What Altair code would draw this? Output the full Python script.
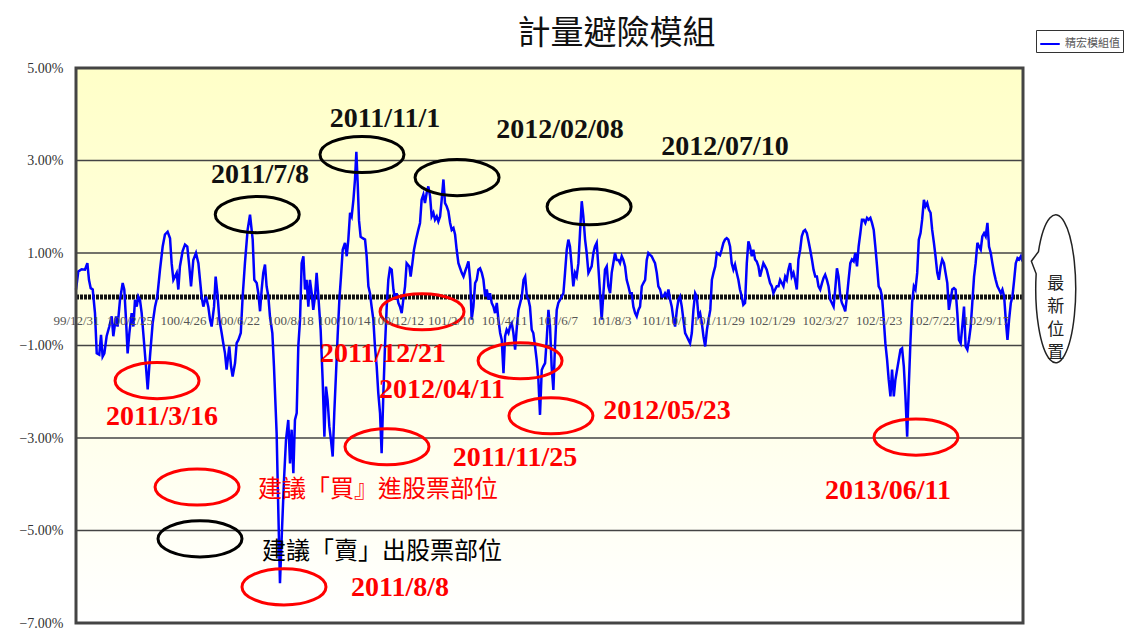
import altair as alt
import pandas as pd

TITLE = "計量避險模組"
SERIES_NAME = "精宏模組值"

# category axis: one label every 40 trading days
X_TICK_DAYS = [0, 40, 80, 120, 160, 200, 240, 280, 320, 360, 400, 440, 480, 520, 560, 600, 640, 680]
X_TICK_LABELS = ["99/12/31", "100/2/25", "100/4/26", "100/6/22", "100/8/18", "100/10/14",
                 "100/12/12", "101/2/10", "101/4/11", "101/6/7", "101/8/3", "101/10/1",
                 "101/11/29", "102/1/29", "102/3/27", "102/5/23", "102/7/22", "102/9/17"]
X_DOMAIN = [0, 708]
Y_TICKS = [-7, -5, -3, -1, 1, 3, 5]
Y_DOMAIN = [-7, 5]
THRESHOLD = 0.05

# (trading-day index, value in %)
LINE_POINTS = [
    (0, 0.21), (1.7, 0.60), (4.2, 0.65), (6.7, 0.64), (8.5, 0.78), (9.7, 0.42), (11.0, 0.24), (12.5, 0.21),
    (14.2, -0.30), (15.5, -1.17), (17.4, -1.20), (18.7, -0.77), (19.9, -1.24), (21.2, -1.17), (22.9, -0.80),
    (24.9, -0.59), (26.7, -0.37), (27.9, -0.80), (29.9, -0.37), (31.1, -0.59), (32.9, -0.01), (34.9, 0.35),
    (36.1, 0.21), (37.4, -0.44), (38.6, -1.17), (39.9, -0.73), (41.6, -0.30), (42.9, -0.59), (44.1, -0.01),
    (45.4, -0.16), (46.6, 0.06), (47.8, -0.01), (49.1, -0.30), (50.3, -0.73), (52.3, -1.45), (53.6, -1.95),
    (55.3, -1.24), (57.3, -0.52), (59.1, -0.16), (60.8, 0.06), (62.8, 0.64), (64.8, 1.14), (66.5, 1.40),
    (68.5, 1.46), (70.3, 1.32), (71.5, 0.78), (72.8, 0.42), (74.0, 0.49), (75.3, 0.57), (76.5, 0.21),
    (77.7, 0.71), (79.7, 1.04), (81.5, 1.18), (83.2, 1.14), (84.7, 0.71), (86.0, 0.28), (87.7, 0.85),
    (89.7, 1.00), (91.5, 0.78), (92.7, 0.42), (93.9, 0.06), (95.2, -0.16), (97.2, 0.06), (98.9, -0.16),
    (100.2, -0.44), (101.4, -0.59), (103.2, -0.16), (104.4, 0.49), (105.7, 0.13), (107.2, -0.44),
    (108.9, -0.73), (110.1, -0.95), (111.4, -1.17), (112.6, -1.52), (114.6, -1.02), (115.9, -1.45),
    (117.1, -1.67), (118.9, -1.38), (120.1, -0.95), (121.4, -0.88), (123.2, -0.73), (124.6, 0.06),
    (126.3, 0.78), (128.3, 1.50), (130.1, 1.83), (132.1, 1.29), (133.3, 0.42), (135.1, 0.35), (136.3, 0.13),
    (137.6, -0.26), (138.8, 0.21), (140.0, 0.57), (141.3, 0.75), (142.5, 0.28), (143.8, 0.06), (145.0, -0.37),
    (146.8, -0.73), (148.0, -1.45), (150.0, -2.90), (151.3, -4.63), (152.5, -6.14), (154.0, -4.99),
    (155.5, -3.91), (157.0, -3.04), (158.7, -2.61), (160.0, -3.55), (161.2, -2.82), (162.5, -3.76),
    (163.7, -2.61), (165.0, -2.46), (166.2, -1.02), (167.5, -0.44), (168.7, 0.78), (170.0, 0.93),
    (171.2, 0.21), (172.4, 0.42), (173.7, -0.16), (174.9, 0.42), (176.2, 0.13), (177.4, -0.23), (178.7, 0.06),
    (179.9, 0.57), (181.2, 0.06), (182.9, -0.66), (184.4, -1.74), (185.7, -2.97), (186.9, -1.89),
    (188.1, -2.18), (189.4, -2.75), (190.6, -3.04), (191.9, -3.40), (193.1, -2.46), (194.4, -1.60),
    (195.6, -0.80), (196.9, -0.01), (198.1, 0.49), (199.4, 1.07), (201.1, 1.22), (202.4, 0.93), (203.6, 1.29),
    (204.9, 1.87), (206.1, 1.79), (207.4, 2.15), (208.6, 2.60), (209.6, 3.19), (210.6, 2.50), (211.6, 1.70),
    (212.8, 1.35), (214.3, 1.32), (216.1, 1.29), (217.3, 0.93), (218.6, 0.28), (219.8, 0.13), (221.0, -0.16),
    (222.3, -0.44), (223.5, -1.02), (224.8, -1.45), (226.0, -2.03), (227.3, -2.46), (228.5, -3.33),
    (229.8, -2.03), (231.0, -1.02), (232.3, -0.16), (233.5, 0.42), (234.7, 0.67), (236.0, 0.64), (237.3, 0.21),
    (238.5, -0.01), (239.7, 0.13), (241.0, -0.08), (242.2, -0.16), (243.5, -0.30), (244.7, -0.01),
    (246.0, 0.28), (247.2, 0.78), (249.2, 0.71), (250.2, 0.49), (251.5, 0.78), (252.7, 1.07), (254.2, 1.29),
    (255.9, 1.50), (257.2, 1.65), (258.4, 2.15), (259.7, 2.26), (260.9, 2.08), (262.2, 2.30), (263.4, 2.44),
    (264.7, 2.23), (265.9, 1.79), (267.2, 1.87), (268.4, 1.72), (269.7, 1.79), (270.9, 1.68), (272.2, 1.79),
    (273.4, 2.15), (274.7, 2.59), (275.9, 2.08), (277.1, 2.01), (278.4, 1.90), (279.7, 1.65), (280.9, 1.50),
    (282.2, 1.54), (283.4, 1.40), (284.6, 1.07), (285.9, 0.78), (287.2, 0.67), (288.4, 0.57), (289.7, 0.49),
    (290.9, 0.60), (292.2, 0.71), (293.4, 0.82), (294.7, 0.42), (295.8, -0.44), (297.1, -0.16), (298.4, 0.35),
    (299.6, 0.42), (300.8, 0.64), (302.1, 0.67), (303.4, 0.57), (304.6, 0.42), (305.9, 0.06), (307.1, 0.21),
    (308.4, -0.01), (309.5, 0.13), (310.8, -0.08), (312.1, -0.16), (313.3, -0.30), (314.6, -0.08),
    (315.8, -0.44), (317.1, -0.73), (318.3, -0.88), (319.6, -1.60), (320.8, -0.80), (322.0, -0.66),
    (323.3, -0.73), (324.5, -0.59), (325.8, -0.52), (327.0, -0.73), (328.3, -1.09), (329.6, -0.59),
    (330.8, -0.23), (332.1, -0.08), (333.3, 0.06), (334.6, 0.42), (335.8, 0.49), (337.1, 0.06), (338.3, -0.01),
    (339.4, -0.16), (340.7, -0.66), (341.9, -0.73), (343.2, -1.02), (344.4, -1.31), (345.7, -1.74),
    (346.9, -2.50), (348.2, -1.53), (349.4, -1.45), (350.7, -1.38), (351.9, -0.88), (353.2, -0.23),
    (354.4, -0.59), (355.6, -1.45), (356.9, -1.96), (358.1, -1.02), (359.4, -0.23), (360.6, -0.08),
    (361.9, -0.01), (363.1, 0.06), (364.4, 0.13), (365.6, 0.57), (366.9, 1.07), (368.1, 1.29), (369.3, 1.14),
    (370.6, 0.71), (371.8, 0.28), (373.1, 0.57), (374.3, 0.49), (375.6, 0.78), (376.8, 1.43), (378.1, 2.12),
    (379.3, 1.79), (380.6, 1.29), (381.8, 1.00), (383.1, 0.57), (384.3, 0.64), (385.5, 0.71), (386.8, 1.00),
    (388.0, 1.14), (389.3, 1.22), (390.5, 0.71), (391.8, 0.13), (393.0, -0.44), (394.3, 0.13), (395.5, 0.64),
    (396.8, 0.71), (398.0, 0.28), (399.3, 0.13), (400.5, 0.57), (401.7, 0.78), (403.0, 1.00), (404.2, 0.85),
    (405.5, 0.85), (406.7, 0.78), (408.0, 0.93), (409.2, 0.85), (410.5, 0.71), (411.7, 0.42), (413.0, 0.28),
    (414.2, 0.13), (415.5, 0.13), (416.7, -0.16), (418.0, -0.30), (419.2, -0.37), (420.5, -0.23),
    (421.7, -0.16), (423.0, 0.28), (424.2, 0.35), (425.5, 0.42), (426.7, 0.85), (427.9, 1.00), (429.2, 0.96),
    (430.4, 0.93), (431.7, 0.85), (432.9, 0.78), (434.2, 0.57), (435.4, 0.28), (436.7, 0.21), (437.9, 0.06),
    (439.2, 0.06), (440.4, 0.13), (441.7, 0.06), (442.9, 0.21), (444.2, -0.01), (445.4, -0.16), (446.7, -0.44),
    (447.9, -0.59), (449.2, -0.23), (450.4, -0.01), (451.6, 0.06), (452.9, -0.16), (454.1, -0.44),
    (455.4, -0.73), (456.6, -0.80), (457.9, -0.88), (459.1, -0.95), (460.4, -0.73), (461.6, -0.23),
    (462.9, 0.13), (464.1, 0.06), (465.4, -0.37), (466.6, -0.30), (467.9, -0.52), (469.1, -0.80),
    (470.4, -1.02), (471.7, -0.66), (472.9, -0.44), (474.2, -0.23), (475.4, 0.42), (476.6, 0.57), (477.9, 0.71),
    (479.1, 1.00), (481.5, 0.95), (482.7, 1.07), (484.0, 1.22), (485.2, 1.29), (486.5, 1.32), (487.7, 1.29),
    (489.0, 1.14), (490.2, 0.78), (491.5, 0.64), (492.7, 0.75), (494.0, 0.57), (495.2, 0.42), (496.4, 0.21),
    (497.7, 0.06), (498.9, -0.12), (500.2, -0.08), (501.5, 0.78), (502.7, 1.25), (503.9, 1.14), (505.2, 0.93),
    (506.4, 1.07), (507.7, 0.86), (508.9, 0.82), (510.2, 0.71), (511.4, 0.49), (512.7, 0.64), (513.9, 0.78),
    (515.2, 0.71), (516.4, 0.64), (517.7, 0.49), (518.9, 0.35), (520.2, 0.28), (521.4, 0.13), (522.7, 0.21),
    (523.9, 0.28), (525.2, 0.28), (526.4, 0.42), (527.7, 0.35), (528.9, 0.28), (530.2, 0.49), (531.4, 0.42),
    (532.6, 0.64), (533.9, 0.78), (535.1, 0.49), (536.4, 0.57), (537.6, 0.42), (538.9, 0.21), (540.1, 0.86),
    (541.4, 1.07), (542.6, 1.36), (543.9, 1.47), (545.1, 1.50), (546.4, 1.43), (547.7, 1.25), (548.9, 1.07),
    (550.2, 0.86), (551.4, 0.64), (552.7, 0.49), (553.9, 0.49), (555.1, 0.28), (556.4, 0.21), (557.7, 0.35),
    (558.9, 0.46), (560.1, 0.53), (561.4, 0.42), (562.6, 0.28), (563.9, -0.01), (565.1, -0.08), (566.4, -0.16),
    (567.6, 0.21), (568.9, 0.67), (570.1, 0.49), (571.4, 0.06), (572.6, -0.08), (573.9, -0.16), (575.1, -0.26),
    (576.4, 0.06), (577.6, 0.42), (578.9, 0.78), (580.1, 0.86), (581.4, 0.82), (582.6, 1.00), (583.9, 0.71),
    (585.1, 1.14), (586.4, 1.43), (587.6, 1.72), (588.9, 1.72), (590.1, 1.65), (591.4, 1.76), (592.6, 1.72),
    (593.9, 1.76), (595.1, 1.65), (596.4, 1.50), (597.6, 1.14), (598.9, 0.71), (600.1, 0.28), (601.4, 0.21),
    (602.6, 0.06), (603.9, -0.44), (605.1, -0.95), (606.4, -1.31), (607.6, -1.74), (608.9, -2.10),
    (610.1, -1.52), (611.4, -2.10), (612.6, -1.74), (613.9, -1.52), (615.1, -1.31), (616.4, -1.09),
    (617.6, -1.06), (618.9, -1.45), (620.1, -2.10), (621.4, -2.97), (622.6, -1.89), (623.9, -0.88),
    (625.1, -0.08), (626.4, 0.28), (627.6, 0.21), (628.9, 0.57), (630.1, 1.29), (631.4, 1.43), (632.6, 1.72),
    (633.9, 2.15), (635.1, 2.01), (636.4, 2.08), (637.6, 1.94), (638.9, 1.87), (640.1, 1.50), (641.4, 1.22),
    (642.6, 0.93), (643.9, 0.57), (645.1, 0.42), (646.4, 0.71), (647.6, 0.86), (648.9, 0.78), (650.1, 0.57),
    (651.4, 0.35), (652.6, -0.23), (653.9, -0.01), (655.1, 0.21), (656.4, 0.24), (657.6, 0.21), (658.9, -0.30),
    (660.1, -0.88), (661.4, -0.95), (662.6, -0.59), (663.9, -0.16), (665.1, -1.02), (666.4, -1.09),
    (667.6, -0.88), (668.9, -0.59), (670.1, -0.08), (671.4, 0.49), (672.6, 0.78), (673.9, 1.22), (675.1, 1.14),
    (676.4, 1.07), (677.6, 1.36), (678.9, 1.43), (680.1, 1.36), (681.4, 1.65), (682.6, 1.14), (683.9, 1.00),
    (685.1, 0.78), (686.4, 0.57), (687.6, 0.42), (688.9, 0.28), (690.1, 0.21), (691.4, 0.13), (692.6, 0.21),
    (693.9, 0.06), (695.1, -0.44), (696.4, -0.88), (697.6, -0.44), (698.9, -0.08), (700.1, 0.06),
    (701.4, 0.42), (702.6, 0.78), (703.9, 0.89), (705.1, 0.86), (706.4, 0.93), (707.6, 0.82),
]

# annotations (data coordinates: trading-day index, %)
SELL_DATES = ["2011/7/8", "2011/11/1", "2012/02/08", "2012/07/10"]
SELL_TEXT_DAY = [137.6, 231.0, 361.9, 485.2]
SELL_TEXT_VAL = [2.69, 3.90, 3.65, 3.30]
SELL_MARK_DAY = [135.5, 213.8, 284.9, 383.6]
SELL_MARK_VAL = [1.83, 3.13, 2.63, 2.00]

BUY_DATES = ["2011/3/16", "2011/8/8", "2011/11/25", "2011/12/21", "2012/04/11", "2012/05/23", "2013/06/11"]
BUY_TEXT_DAY = [64.3, 242.2, 328.2, 229.5, 273.6, 441.9, 607.1]
BUY_TEXT_VAL = [-2.54, -6.24, -3.43, -1.18, -1.96, -2.41, -4.15]
BUY_MARK_DAY = [60.6, 155.5, 232.5, 258.7, 332.0, 355.1, 628.0]
BUY_MARK_VAL = [-1.76, -6.22, -3.19, -0.27, -1.33, -2.52, -2.98]

KEY_TEXTS = ["建議「買』進股票部位", "建議「賣」出股票部位"]
KEY_COLORS = ["#FF0000", "#000000"]
KEY_TEXT_DAY = [136.1, 139.1]
KEY_TEXT_VAL = [-4.12, -5.47]
KEY_MARK_DAY = [90.5, 92.7]
KEY_MARK_VAL = [-4.06, -5.18]

LATEST_TEXT = "最\n新\n位\n置"
LATEST_DAY = [732.5]
LATEST_VAL = [0.23]

RED = "#FF0000"
BLUE = "#0000FF"
SERIF = "Liberation Serif"
CJK = "Noto Sans CJK TC"

ELLIPSE = "M -1 0 A 1 0.43 0 1 1 1 0 A 1 0.43 0 1 1 -1 0 Z"
BUBBLE = "M -0.234 -0.5 A 0.27 1 0 1 1 -0.265 -0.2 L -0.33 -0.37 Z"

line_df = pd.DataFrame(LINE_POINTS, columns=["day", "value"])
line_df["series"] = SERIES_NAME

x_scale = alt.Scale(domain=X_DOMAIN, nice=False, zero=False)
y_scale = alt.Scale(domain=Y_DOMAIN, nice=False, zero=False)

label_array = "[" + ",".join("'" + s + "'" for s in X_TICK_LABELS) + "]"

x_axis = alt.Axis(
    values=X_TICK_DAYS, labelExpr=label_array + "[round(datum.value/40)]",
    title=None, domain=False, ticks=False, grid=False, offset=-326, zindex=1,
    labelPadding=17, labelFont=SERIF, labelFontSize=13, labelColor="#555555",
    labelFlush=False, labelOverlap=False, labelBound=False,
)
y_axis = alt.Axis(
    values=Y_TICKS, labelExpr="format(datum.value, '.2f') + '%'",
    title=None, domain=False, ticks=False, grid=False, zindex=1,
    labelPadding=13, labelFont=SERIF, labelFontSize=14, labelColor="#333333",
)

one_row = pd.DataFrame({"a": [0]})

bg = alt.Chart(one_row).mark_rect(
    fill=alt.LinearGradient(
        gradient="linear",
        stops=[alt.GradientStop(color="#FFFFC8", offset=0), alt.GradientStop(color="#FFFFFF", offset=1)],
        x1=0, x2=0, y1=0, y2=1,
    )
).encode(
    x=alt.X(datum=X_DOMAIN[0], scale=x_scale, axis=x_axis),
    x2=alt.X2(datum=X_DOMAIN[1]),
    y=alt.Y(datum=Y_DOMAIN[1], scale=y_scale, axis=y_axis),
    y2=alt.Y2(datum=Y_DOMAIN[0]),
)

grid = alt.Chart(pd.DataFrame({"value": Y_TICKS[1:-1]})).mark_rule(
    color="#444444", strokeWidth=1.5
).encode(y=alt.Y("value:Q", scale=y_scale))

zero_rule = alt.Chart(one_row).mark_rule(
    color="#111111", strokeWidth=5, strokeDash=[3, 1]
).encode(y=alt.Y(datum=THRESHOLD, scale=y_scale))

line = alt.Chart(line_df).mark_line(strokeWidth=2.5).encode(
    x=alt.X("day:Q", scale=x_scale, axis=x_axis),
    y=alt.Y("value:Q", scale=y_scale, axis=y_axis),
    color=alt.Color(
        "series:N",
        scale=alt.Scale(domain=[SERIES_NAME], range=[BLUE]),
        legend=alt.Legend(
            title=None, orient="none", legendX=960, legendY=-38,
            strokeColor="#333333", padding=3, fillColor="white",
            symbolType="stroke", symbolSize=380, symbolStrokeWidth=2,
            labelFont=CJK, labelFontSize=11, labelColor="#555555",
        ),
    ),
)

frame = alt.Chart(one_row).mark_rect(
    filled=False, stroke="#444444", strokeWidth=3, fillOpacity=0
).encode(
    x=alt.X(datum=X_DOMAIN[0], scale=x_scale),
    x2=alt.X2(datum=X_DOMAIN[1]),
    y=alt.Y(datum=Y_DOMAIN[1], scale=y_scale),
    y2=alt.Y2(datum=Y_DOMAIN[0]),
)


def marks(days, vals, color):
    df = pd.DataFrame({"day": days, "value": vals})
    return alt.Chart(df).mark_point(
        shape=ELLIPSE, size=7056, filled=False, stroke=color, strokeWidth=3, opacity=1
    ).encode(x=alt.X("day:Q", scale=x_scale), y=alt.Y("value:Q", scale=y_scale))


def texts(labels, days, vals, color, font, size, weight, align="center"):
    df = pd.DataFrame({"label": labels, "day": days, "value": vals})
    return alt.Chart(df).mark_text(
        font=font, fontSize=size, fontWeight=weight, color=color, align=align, baseline="middle"
    ).encode(x=alt.X("day:Q", scale=x_scale), y=alt.Y("value:Q", scale=y_scale), text="label:N")


sell_marks = marks(SELL_MARK_DAY, SELL_MARK_VAL, "#000000")
buy_marks = marks(BUY_MARK_DAY, BUY_MARK_VAL, RED)
key_mark_red = marks(KEY_MARK_DAY[:1], KEY_MARK_VAL[:1], KEY_COLORS[0])
key_mark_black = marks(KEY_MARK_DAY[1:], KEY_MARK_VAL[1:], KEY_COLORS[1])

sell_text = texts(SELL_DATES, SELL_TEXT_DAY, SELL_TEXT_VAL, "#111111", SERIF, 28, "bold")
buy_text = texts(BUY_DATES, BUY_TEXT_DAY, BUY_TEXT_VAL, RED, SERIF, 28, "bold")
key_text_red = texts(KEY_TEXTS[:1], KEY_TEXT_DAY[:1], KEY_TEXT_VAL[:1], KEY_COLORS[0], CJK, 24, "normal", "left")
key_text_black = texts(KEY_TEXTS[1:], KEY_TEXT_DAY[1:], KEY_TEXT_VAL[1:], KEY_COLORS[1], CJK, 24, "normal", "left")

bubble = alt.Chart(pd.DataFrame({"day": LATEST_DAY, "value": LATEST_VAL})).mark_point(
    shape=BUBBLE, size=148 * 148, filled=False, stroke="#222222", strokeWidth=1.5, opacity=1
).encode(x=alt.X("day:Q", scale=x_scale), y=alt.Y("value:Q", scale=y_scale))

bubble_text = alt.Chart(pd.DataFrame({"day": LATEST_DAY, "value": [LATEST_VAL[0] + 0.1]})).mark_text(
    text=LATEST_TEXT, lineBreak="\n", font=CJK, fontSize=17, lineHeight=23, color="#222222",
    align="center", baseline="middle"
).encode(x=alt.X("day:Q", scale=x_scale), y=alt.Y("value:Q", scale=y_scale))

chart = alt.layer(
    bg, grid, zero_rule, line, frame, sell_marks, buy_marks, key_mark_red, key_mark_black,
    sell_text, buy_text, key_text_red, key_text_black, bubble, bubble_text,
).properties(
    width=947, height=555,
    autosize=alt.AutoSizeParams(type="none"),
    padding={"left": 68, "top": 60, "right": 110, "bottom": 7},
    title=alt.TitleParams(
        TITLE, font=CJK, fontSize=33, fontWeight="normal", color="#111111",
        anchor="middle", dx=67, offset=-54, baseline="bottom",
    ),
).configure_view(stroke=None).configure(background="white")

chart.save("out.html", embed_options={"renderer": "svg", "actions": False})
